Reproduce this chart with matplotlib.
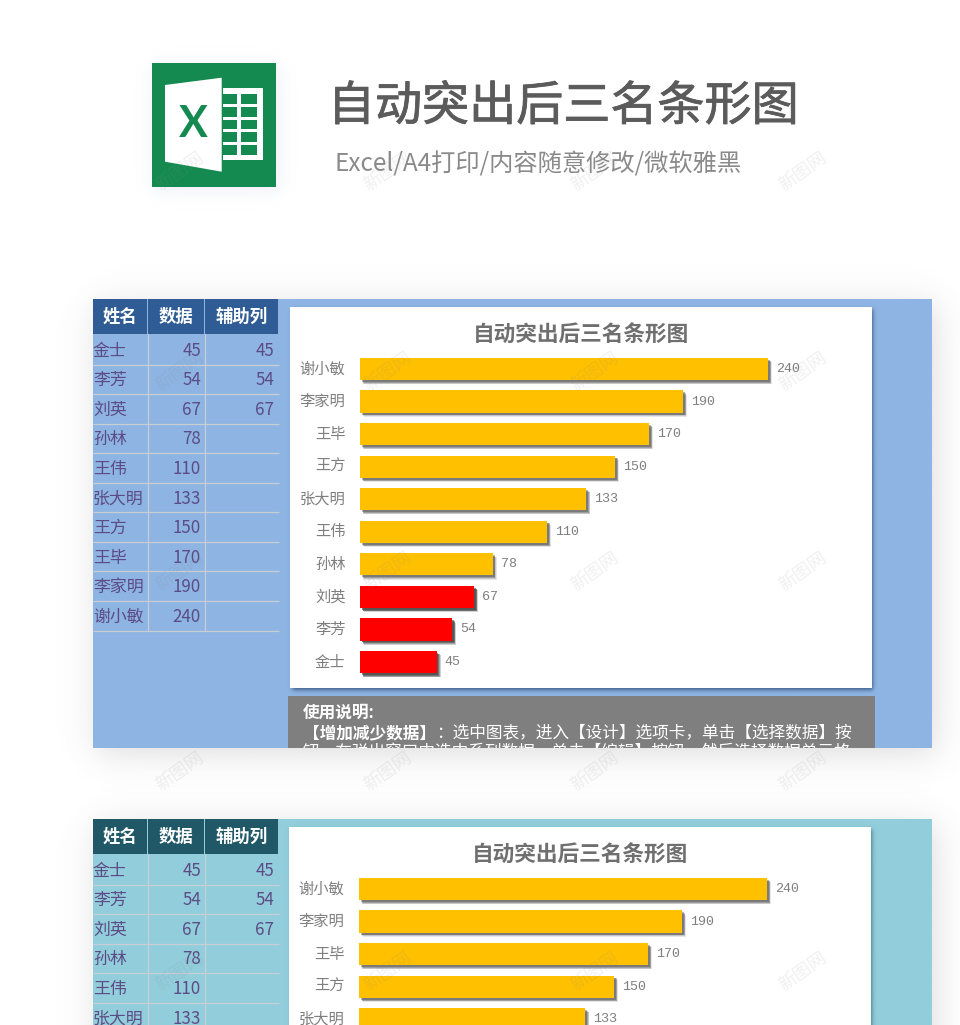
import matplotlib
matplotlib.use('Agg')
import matplotlib.patheffects as pe
import matplotlib.pyplot as plt
import numpy as np
from matplotlib.colors import to_rgb
from matplotlib.patches import Polygon, Rectangle

plt.rcParams['font.family'] = ['Noto Sans CJK SC', 'DejaVu Sans']

names = ['金士', '李芳', '刘英', '孙林', '王伟', '张大明', '王方', '王毕', '李家明', '谢小敏']
values = [45, 54, 67, 78, 110, 133, 150, 170, 190, 240]
helper = [45, 54, 67, None, None, None, None, None, None, None]
headers = ['姓名', '数据', '辅助列']

main_title = '自动突出后三名条形图'
sub_title = 'Excel/A4打印/内容随意修改/微软雅黑'
watermark = '新图网'
note_head = '使用说明:'
note_bold = '【增加减少数据】'
note_line1 = '：选中图表，进入【设计】选项卡，单击【选择数据】按'
note_line2 = '钮，在弹出窗口中选中系列数据，单击【编辑】按钮，然后选择数据单元格'

W, H = 960, 1025
TEXT_PURPLE = '#5c4c86'
GREY = '#7f7f7f'


def soft_shadow(ax, x0, y0, x1, y1, blur, color, alpha, zorder=1):
    #rgba image with a sigmoid falloff on each side
    margin = 5 * blur
    xs = np.arange(x0 - margin, x1 + margin)
    ys = np.arange(y0 - margin, y1 + margin)
    fx = 1 / (1 + np.exp(-(xs - x0) / blur)) / (1 + np.exp(-(x1 - xs) / blur))
    fy = 1 / (1 + np.exp(-(ys - y0) / blur)) / (1 + np.exp(-(y1 - ys) / blur))
    img = np.zeros((len(ys), len(xs), 4))
    img[..., :3] = to_rgb(color)
    img[..., 3] = np.outer(fy, fx) * alpha
    ax.imshow(img, extent=(xs[0], xs[-1], ys[-1], ys[0]), aspect='auto', zorder=zorder)


def draw_icon(ax):
    soft_shadow(ax, 154, 66, 278, 190, 5, '#9fb0d8', 0.22)
    ax.add_patch(Rectangle((152, 63), 124, 124, fc='#148a50', ec='none', zorder=2))
    ax.add_patch(Rectangle((223, 88), 40, 72, fc='white', ec='none', zorder=3))
    for cell_x, cell_w in [(223, 14), (241, 15.5)]:
        for cell_y in [94, 107, 119.5, 132, 145]:
            ax.add_patch(Rectangle((cell_x, cell_y), cell_w, 9.5, fc='#148a50', ec='none', zorder=4))
    ax.add_patch(Polygon([(165, 85), (221.7, 77.7), (221.7, 171.7), (165, 161.7)],
                         fc='white', ec='none', zorder=5))
    ax.text(193.5, 124, 'X', color='#148a50', fontsize=31, fontweight='bold', ha='center', va='center',
            family=['Lato', 'DejaVu Sans'], zorder=6)


def draw_table(ax, top, bg, head):
    col_x = [93, 148, 205, 279]
    row_h = 29.55
    head_h = 35

    for i, label in enumerate(headers):
        ax.add_patch(Rectangle((col_x[i], top), col_x[i + 1] - col_x[i] - 1, head_h,
                               fc=head, ec='none', zorder=3))
        ax.text((col_x[i] + col_x[i + 1] - 1) / 2, top + head_h / 2, label, color='white', fontsize=12.5,
                fontweight='bold', ha='center', va='center', zorder=4)

    table_bottom = top + head_h + 1 + row_h * len(names)
    for i, name in enumerate(names):
        y_mid = top + head_h + 2 + row_h * (i + 0.5)
        line_y = top + head_h + 1 + row_h * (i + 1)
        ax.plot([93, 279], [line_y, line_y], color='#c8cdd6', lw=0.9, zorder=3, solid_capstyle='butt')
        if y_mid - 9 > H:
            continue
        ax.text(93, y_mid, name, color=TEXT_PURPLE, fontsize=12.2, ha='left', va='center', zorder=4)
        ax.text(201, y_mid, str(values[i]), color=TEXT_PURPLE, fontsize=12.2, ha='right', va='center', zorder=4)
        if helper[i] is not None:
            ax.text(274, y_mid, str(helper[i]), color=TEXT_PURPLE, fontsize=12.2, ha='right', va='center', zorder=4)

    for x in col_x[1:3]:
        ax.plot([x - 0.5, x - 0.5], [top + head_h, table_bottom], color='#c8cdd6', lw=0.9, zorder=3)


def draw_chart(fig, ax, top, shift, bg_shadow):
    card_x0, card_x1 = 290 + shift, 872 + shift
    card_y0, card_y1 = top + 8, top + 389

    soft_shadow(ax, card_x0 + 2, card_y0 + 2, card_x1 + 1.5, card_y1 + 2.5, 1.2, bg_shadow, 0.7, zorder=3)
    ax.add_patch(Rectangle((card_x0, card_y0), card_x1 - card_x0, card_y1 - card_y0,
                           fc='white', ec='none', zorder=4))
    ax.text((card_x0 + card_x1) / 2, top + 36, main_title, color='#6f6f6f', fontsize=15.6,
            fontweight='bold', ha='center', va='center', zorder=5)

    #1.7 px per unit, same scale as the picture
    left = 360 + shift
    px_top = top + 53.7
    px_full = top + 379.3
    px_bottom = min(px_full, H)
    y_low = -0.5 + (px_full - px_bottom) / (px_full - px_top) * len(names)
    chart = fig.add_axes([left / W, 1 - px_bottom / H, 510 / W, (px_bottom - px_top) / H], zorder=3)
    chart.patch.set_alpha(0)

    y = np.arange(len(names))
    shadow = [pe.SimplePatchShadow(offset=(3.0, -3.0), shadow_rgbFace='#666666', alpha=0.16),
              pe.SimplePatchShadow(offset=(2.5, -2.5), shadow_rgbFace='#555555', alpha=0.22),
              pe.SimplePatchShadow(offset=(2.0, -2.0), shadow_rgbFace='#444444', alpha=0.3),
              pe.SimplePatchShadow(offset=(1.4, -1.4), shadow_rgbFace='#444444', alpha=0.4),
              pe.Normal()]
    bars = chart.barh(y, values, height=0.68, color='#ffc000', path_effects=shadow)
    red = [np.nan if h is None else h for h in helper]
    chart.barh(y, red, height=0.68, color='#ff0000', path_effects=shadow)
    chart.bar_label(bars, padding=5.8, color=GREY, fontsize=9.6, family=['Liberation Mono', 'DejaVu Sans'])

    chart.set_yticks(y, names)
    chart.set_xticks([])
    chart.tick_params(axis='y', length=0, pad=10.5, labelsize=11, labelcolor=GREY)
    plt.setp(chart.get_yticklabels(), va='center')
    #set_yticks widens the view, so limits go last
    chart.set_xlim(0, 300)
    chart.set_ylim(y_low, len(names) - 0.5)
    for side in chart.spines.values():
        side.set_visible(False)


def draw_panel(fig, ax, top, shift, bg, head, bg_shadow):
    bottom = top + 449
    clip = Rectangle((93, top), 839, 449, transform=ax.transData)

    soft_shadow(ax, 97, top + 6, 936, bottom + 6, 10, '#707070', 0.24, zorder=1)
    ax.add_patch(Rectangle((93, top), 839, 449, fc=bg, ec='none', zorder=2))
    draw_table(ax, top, bg, head)
    draw_chart(fig, ax, top, shift, bg_shadow)

    ax.add_patch(Rectangle((288 + shift, top + 397), 587, 52, fc='#7f7f7f', ec='none', zorder=3))
    if top + 397 > H:
        return
    txt = [ax.text(303, top + 414, note_head, color='white', fontsize=12, fontweight='bold', va='center', zorder=5),
           ax.text(303, top + 434, note_bold, color='white', fontsize=12, fontweight='bold', va='center', zorder=5),
           ax.text(436, top + 434, note_line1, color='white', fontsize=12, va='center', zorder=5),
           ax.text(303, top + 454, note_line2, color='white', fontsize=12, va='center', zorder=5)]
    for t in txt:
        t.set_clip_on(True)
        t.set_clip_path(clip)


fig = plt.figure(figsize=(W / 100, H / 100), dpi=100, facecolor='white')
ax = fig.add_axes([0, 0, 1, 1], zorder=0)
ax.set_xlim(0, W)
ax.set_ylim(H, 0)
ax.axis('off')

draw_icon(ax)
ax.text(563.5, 107, main_title, color='#5b5b5b', fontsize=33.9, ha='center', va='center', zorder=3,
        path_effects=[pe.withStroke(linewidth=0.6, foreground='#5b5b5b')])
ax.text(538, 165, sub_title, color='#8a8a8a', fontsize=17.5, ha='center', va='center', zorder=3)

draw_panel(fig, ax, 299, 0, '#8db4e2', '#2f5c94', '#1f3864')
draw_panel(fig, ax, 819, -1, '#92cddc', '#205867', '#205867')

marks = fig.add_axes([0, 0, 1, 1], zorder=9)
marks.set_xlim(0, W)
marks.set_ylim(H, 0)
marks.axis('off')
for mx in [180, 388, 595, 803]:
    for my in [172, 372, 572, 772, 972]:
        marks.text(mx, my, watermark, color='#8a8a8a', alpha=0.13, fontsize=13, rotation=35,
                   ha='center', va='center')

fig.savefig('out.png', dpi=100)
